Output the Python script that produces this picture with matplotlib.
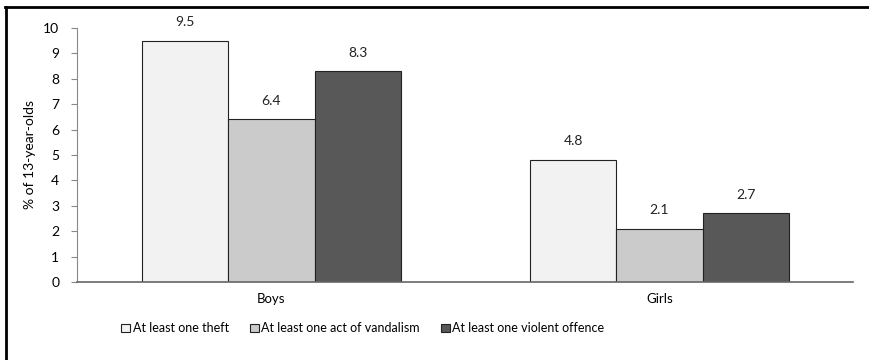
import matplotlib
matplotlib.use('Agg')
import matplotlib.pyplot as plt
from matplotlib.lines import Line2D
import numpy as np

plt.rcParams['font.family'] = ['Lato', 'DejaVu Sans']

categories = ['Boys', 'Girls']
series_names = ['At least one theft', 'At least one act of vandalism',
                'At least one violent offence']
theft = [9.5, 4.8]
vandalism = [6.4, 2.1]
violent = [8.3, 2.7]
value_labels = [['9.5', '4.8'], ['6.4', '2.1'], ['8.3', '2.7']]
colors = ['#f2f2f2', '#cbcbcb', '#585858']

fig = plt.figure(figsize=(8.7, 3.6), dpi=100)
ax = fig.add_axes([0.089, 0.217, 0.892, 0.705])

x = np.arange(len(categories))
width = 0.222
for i, (vals, name) in enumerate(zip([theft, vandalism, violent], series_names)):
    pos = x + (i - 1) * width
    ax.bar(pos, vals, width, color=colors[i], edgecolor='#222222',
           linewidth=0.8, label=name)
    for p, v, lab in zip(pos, vals, value_labels[i]):
        ax.text(p, v + 0.5, lab, ha='center', va='bottom', fontsize=10,
                color='#222222')

ax.set_xlim(-0.5, 1.5)
ax.set_ylim(0, 10)
ax.set_yticks(range(0, 11))
ax.set_xticks(x)
ax.set_xticklabels(categories, fontsize=9.5)
ax.tick_params(axis='x', length=0, pad=8)
ax.tick_params(axis='y', length=4, pad=9, labelsize=10, color='#888888')
ax.set_ylabel('% of 13-year-olds', fontsize=10, labelpad=5)
for s in ['top', 'right']:
    ax.spines[s].set_visible(False)
ax.spines['left'].set_color('#888888')
ax.spines['bottom'].set_color('#666666')
ax.spines['bottom'].set_linewidth(1.2)

ax.legend(loc='upper center', bbox_to_anchor=(0.368, -0.115), ncol=3,
          frameon=False, fontsize=9, handlelength=0.7, handleheight=0.7,
          handletextpad=0.2, columnspacing=1.7)

# outer frame (top and left edges visible in the reference)
fig.add_artist(Line2D([5 / 870, 1.0], [1 - 7 / 360, 1 - 7 / 360],
                      transform=fig.transFigure, color='black', linewidth=2))
fig.add_artist(Line2D([6 / 870, 6 / 870], [0, 1 - 7 / 360],
                      transform=fig.transFigure, color='black', linewidth=2))

fig.savefig('out.png', dpi=100)
